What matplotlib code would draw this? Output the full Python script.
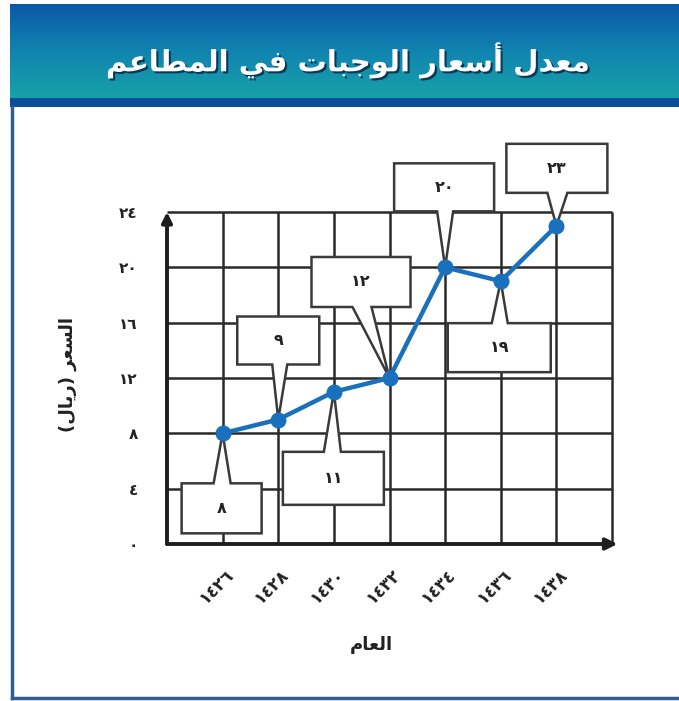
import numpy as np
import matplotlib
matplotlib.use("Agg")
import matplotlib.pyplot as plt
from matplotlib.patches import Polygon, Rectangle
from matplotlib.lines import Line2D
from matplotlib.colors import LinearSegmentedColormap
import matplotlib.transforms as mtransforms
import matplotlib.patheffects as pe

# ---------------- data ----------------
years = [1426, 1428, 1430, 1432, 1434, 1436, 1438]
prices = [8, 9, 11, 12, 20, 19, 23]
value_labels = ["٨", "٩", "١١", "١٢", "٢٠", "١٩", "٢٣"]
year_labels = ["١٤٢٦", "١٤٢٨", "١٤٣٠", "١٤٣٢", "١٤٣٤", "١٤٣٦", "١٤٣٨"]
y_ticks = [0, 4, 8, 12, 16, 20, 24]
y_tick_labels = ["٠", "٤", "٨", "١٢", "١٦", "٢٠", "٢٤"]
title_text = "معدل أسعار الوجبات في المطاعم"
x_title = "العام"
y_title = "السعر (ريال)"

# ---------------- simple Arabic shaping ----------------
FORMS = {
    'ا': ('\uFE8D', '\uFE8E', None, None),
    'أ': ('\uFE83', '\uFE84', None, None),
    'ب': ('\uFE8F', '\uFE90', '\uFE91', '\uFE92'),
    'ت': ('\uFE95', '\uFE96', '\uFE97', '\uFE98'),
    'ج': ('\uFE9D', '\uFE9E', '\uFE9F', '\uFEA0'),
    'د': ('\uFEA9', '\uFEAA', None, None),
    'ر': ('\uFEAD', '\uFEAE', None, None),
    'س': ('\uFEB1', '\uFEB2', '\uFEB3', '\uFEB4'),
    'ط': ('\uFEC1', '\uFEC2', '\uFEC3', '\uFEC4'),
    'ع': ('\uFEC9', '\uFECA', '\uFECB', '\uFECC'),
    'ف': ('\uFED1', '\uFED2', '\uFED3', '\uFED4'),
    'ل': ('\uFEDD', '\uFEDE', '\uFEDF', '\uFEE0'),
    'م': ('\uFEE1', '\uFEE2', '\uFEE3', '\uFEE4'),
    'و': ('\uFEED', '\uFEEE', None, None),
    'ي': ('\uFEF1', '\uFEF2', '\uFEF3', '\uFEF4'),
}
MIRROR = {'(': ')', ')': '('}


def shape(text):
    out = []
    n = len(text)
    for i, c in enumerate(text):
        if c not in FORMS:
            out.append(MIRROR.get(c, c))
            continue
        prev = text[i - 1] if i > 0 else ''
        nxt = text[i + 1] if i < n - 1 else ''
        jp = prev in FORMS and FORMS[prev][2] is not None
        jn = nxt in FORMS and FORMS[c][2] is not None
        iso, fin, ini, med = FORMS[c]
        if jp and jn:
            out.append(med)
        elif jp:
            out.append(fin)
        elif jn:
            out.append(ini)
        else:
            out.append(iso)
    return ''.join(reversed(out))


# ---------------- layout ----------------
W, H = 679, 701
fig = plt.figure(figsize=(W / 100, H / 100), dpi=100)
fig.patch.set_facecolor('white')

# header band with gradient
hdr = fig.add_axes([10 / W, 1 - 98 / H, 669 / W, 94 / H])
grad = np.linspace(0, 1, 256).reshape(-1, 1)
cmap = LinearSegmentedColormap.from_list('hdr', ['#0b58a6', '#1184b0', '#17a2a8'])
hdr.imshow(grad, aspect='auto', cmap=cmap, extent=[0, 1, 0, 1], origin='upper')
hdr.set_axis_off()
hdr.text(0.505, 0.40, shape(title_text), ha='center', va='center', color='white',
         fontsize=21, fontweight='bold', family='DejaVu Sans',
         path_effects=[pe.SimplePatchShadow(offset=(1.5, -1.5), shadow_rgbFace='#05304f', alpha=0.9),
                       pe.Normal()])
fig.add_artist(Rectangle((10 / W, 1 - 107 / H), 669 / W, 9 / H, transform=fig.transFigure,
                         facecolor='#0a4e98', edgecolor='none'))

# frame lines
fig.add_artist(Line2D([12 / W, 12 / W], [1 - 107 / H, 1 - 698 / H], transform=fig.transFigure,
                      color='#2f5f8e', lw=2.5))
fig.add_artist(Line2D([12 / W, 1], [1 - 698 / H, 1 - 698 / H], transform=fig.transFigure,
                      color='#2f5f8e', lw=2.5))

# main axes
x0, x1, ytop, ybot = 167, 612, 212, 544
ax = fig.add_axes([x0 / W, 1 - ybot / H, (x1 - x0) / W, (ybot - ytop) / H])
ax.set_xlim(1424, 1440)
ax.set_ylim(0, 24)
for s in ax.spines.values():
    s.set_visible(False)
ax.set_facecolor('none')

grid_color = '#2a2a2a'
ax.vlines(np.arange(1426, 1441, 2), 0, 24, color=grid_color, lw=1.8, zorder=1, clip_on=False)
ax.hlines(y_ticks[1:], 1424, 1440, color=grid_color, lw=1.8, zorder=1, clip_on=False)

# axes with arrows
ax.annotate('', xy=(1440.2, 0), xytext=(1424, 0), xycoords='data',
            arrowprops=dict(arrowstyle='-|>', lw=2.8, color='#1e1e1e', mutation_scale=17,
                            shrinkA=0, shrinkB=0), annotation_clip=False, zorder=4)
ax.annotate('', xy=(1424, 24.0), xytext=(1424, 0), xycoords='data',
            arrowprops=dict(arrowstyle='-|>', lw=2.8, color='#1e1e1e', mutation_scale=15,
                            shrinkA=0, shrinkB=0), annotation_clip=False, zorder=4)

ax.set_xticks(years)
ax.set_xticklabels(year_labels, rotation=45, ha='right', va='center', rotation_mode='anchor',
                   fontsize=12, fontweight='bold', color='#222222', family='DejaVu Sans')
ax.set_yticks(y_ticks)
ax.set_yticklabels(y_tick_labels, fontsize=11, fontweight='bold', color='#222222',
                   family='DejaVu Sans')
ax.tick_params(axis='both', length=0)
ax.tick_params(axis='x', pad=20)
ax.tick_params(axis='y', pad=21)
shift = mtransforms.ScaledTranslation(8 / 100, 0, fig.dpi_scale_trans)
for lab in ax.get_xticklabels():
    lab.set_transform(lab.get_transform() + shift)

ax.set_xlabel(shape(x_title), fontsize=13, fontweight='bold', family='DejaVu Sans',
              color='#222222')
ax.xaxis.set_label_coords((371 - x0) / (x1 - x0), (ybot - 636) / (ybot - ytop))
ax.set_ylabel(shape(y_title), fontsize=13, fontweight='bold', family='DejaVu Sans',
              color='#222222')
ax.yaxis.set_label_coords((77 - x0) / (x1 - x0), (ybot - 374) / (ybot - ytop))

# data line
blue = '#1a70bd'
ax.plot(years, prices, color=blue, lw=3.2, marker='o', markersize=10.5, zorder=5,
        clip_on=False, solid_capstyle='round')

# callout boxes: (left, right, top, bottom, base0, base1) in pixels relative to the point
# (x to the right, y downward on the image)
callouts = [
    (-41, 39, 50, 100, -9, 8),
    (-41, 41, -103, -55, -6, 9),
    (-51, 50, 60, 113, -10, 7),
    (-78, 21, -121, -71, -37, -18),
    (-51, 49, -104, -56, -8, 8),
    (-53, 50, 42, 91, -9, 7),
    (-50, 51, -82, -33, -9, 11),
]
for xv, yv, lab, (l, r, t, b, b0, b1) in zip(years, prices, value_labels, callouts):
    trans = fig.dpi_scale_trans + mtransforms.ScaledTranslation(xv, yv, ax.transData)
    L, R, T, B = l / 100, r / 100, -t / 100, -b / 100
    B0, B1 = b0 / 100, b1 / 100
    if t > 0:  # box below the point: pointer rises from top edge
        verts = [(B0, T), (L, T), (L, B), (R, B), (R, T), (B1, T), (0, 0)]
    else:      # box above the point: pointer drops from bottom edge
        verts = [(B0, B), (L, B), (L, T), (R, T), (R, B), (B1, B), (0, 0)]
    poly = Polygon(verts, closed=True, transform=trans, facecolor='white',
                   edgecolor='#3a3a3a', lw=1.8, zorder=3, clip_on=False)
    ax.add_patch(poly)
    ax.text((L + R) / 2, (T + B) / 2, lab, transform=trans, ha='center', va='center',
            fontsize=11.5, fontweight='bold', color='#222222', family='DejaVu Sans',
            zorder=3.5, clip_on=False)

fig.savefig('out.png', dpi=100)
